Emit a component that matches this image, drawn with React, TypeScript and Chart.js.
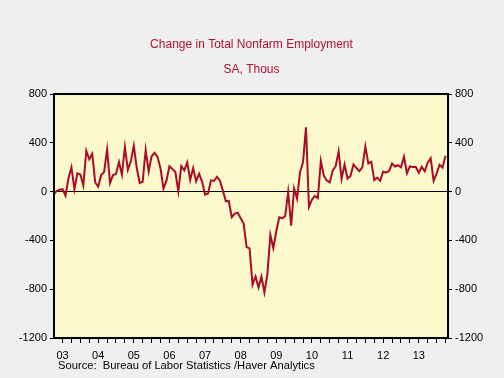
import React, { useEffect, useRef } from "react";
import { Chart, registerables } from "chart.js";

Chart.register(...registerables);

// Monthly change in total nonfarm payrolls, SA, thousands: Apr 2003 .. Apr 2014
const START_YEAR = 2003;
const START_MONTH = 4;
const change2003 = [-25, 5, 15, 20, -35, 110, 200, 20, 150];
const change2004 = [140, 50, 335, 265, 310, 75, 40, 135, 160, 345, 70, 135];
const change2005 = [145, 242, 140, 365, 178, 248, 375, 193, 70, 82, 342, 165];
const change2006 = [290, 318, 285, 190, 25, 90, 208, 186, 160, 3, 210, 175];
const change2007 = [240, 95, 193, 85, 146, 82, -25, -15, 92, 87, 120, 92];
const change2008 = [8, -78, -77, -210, -180, -173, -218, -262, -455, -465, -763, -696];
const change2009 = [-785, -697, -826, -678, -355, -463, -325, -211, -219, -200, -3, -280];
const change2010 = [25, -58, 160, 240, 527, -125, -66, -35, -53, 251, 130, 90];
const change2011 = [75, 172, 208, 328, 105, 221, 107, 128, 223, 193, 167, 200];
const change2012 = [370, 231, 244, 95, 115, 88, 165, 155, 170, 230, 206, 216];
const change2013 = [198, 286, 150, 206, 201, 202, 155, 203, 166, 237, 273, 88];
const change2014 = [147, 220, 197, 294];

const payrollChange = [
  ...change2003, ...change2004, ...change2005, ...change2006, ...change2007, ...change2008,
  ...change2009, ...change2010, ...change2011, ...change2012, ...change2013, ...change2014,
];

const yearLabels = ["03", "04", "05", "06", "07", "08", "09", "10", "11", "12", "13"];
const yTickValues = [-1200, -800, -400, 0, 400, 800];

const TITLE = "Change in Total Nonfarm Employment";
const SUBTITLE = "SA, Thous";
const SOURCE = "Source:  Bureau of Labor Statistics /Haver Analytics";

const FONT = "'Liberation Sans', Arial, Helvetica, sans-serif";
const LINE_COLOR = "#A80D2A";
const TITLE_COLOR = "#B0122F";

export default function App() {
  const ref = useRef<HTMLCanvasElement | null>(null);

  useEffect(() => {
    if (!ref.current) return;
    const points = payrollChange.map((v, i) => ({
      x: START_YEAR + (START_MONTH - 1 + i) / 12,
      y: v,
    }));
    const xMin = 2003.26;
    const xMax = 2014.32;

    const decor = {
      id: "decor",
      beforeDraw(chart: any) {
        const { ctx, chartArea } = chart;
        const { left, top, right, bottom } = chartArea;
        ctx.save();
        ctx.fillStyle = "#EFEFEF";
        ctx.fillRect(0, 0, chart.width, chart.height);
        ctx.fillStyle = "#FBF8CB";
        ctx.fillRect(left, top, right - left, bottom - top);
        ctx.restore();
      },
      afterDraw(chart: any) {
        const { ctx, chartArea } = chart;
        const { left, top, right, bottom } = chartArea;
        ctx.save();
        ctx.strokeStyle = "#000";
        ctx.lineWidth = 2;
        ctx.strokeRect(left, top, right - left, bottom - top);
        ctx.fillStyle = TITLE_COLOR;
        ctx.textAlign = "center";
        ctx.textBaseline = "middle";
        ctx.font = `12px ${FONT}`;
        ctx.fillText(TITLE, 251.5, 45);
        ctx.fillText(SUBTITLE, 251.5, 70);
        ctx.fillStyle = "#000";
        ctx.textAlign = "left";
        ctx.font = `11.2px ${FONT}`;
        ctx.fillText(SOURCE, 58, 366);
        ctx.restore();
      },
    };

    const tickFont = { family: FONT, size: 11 };
    const plainLabel = (value: any) => String(value);

    const chart = new Chart(ref.current, {
      type: "line",
      data: {
        datasets: [
          {
            data: points,
            borderColor: LINE_COLOR,
            borderWidth: 2,
            pointRadius: 0,
            tension: 0,
            fill: false,
          },
        ],
      },
      options: {
        animation: false,
        responsive: false,
        events: [],
        layout: { padding: { top: 94, left: 0, right: 0, bottom: 0 } },
        plugins: { legend: { display: false }, tooltip: { enabled: false }, title: { display: false } },
        scales: {
          x: {
            type: "linear",
            min: xMin,
            max: xMax,
            border: { display: false },
            grid: { drawOnChartArea: false, drawTicks: true, tickLength: 5, tickColor: "#000", lineWidth: 1 },
            afterBuildTicks(scale: any) {
              const ticks = [];
              for (let q = 2003.5; q <= 2014.25 + 1e-6; q += 0.25) ticks.push({ value: q });
              scale.ticks = ticks;
            },
            afterFit(scale: any) {
              scale.height = 40;
            },
            ticks: {
              autoSkip: false,
              maxRotation: 0,
              padding: 6,
              color: "#000",
              font: tickFont,
              callback(value: any) {
                const v = Number(value);
                const frac = v - Math.floor(v);
                if (Math.abs(frac - 0.5) < 1e-6) {
                  const idx = Math.floor(v) - START_YEAR;
                  return yearLabels[idx] ?? "";
                }
                return "";
              },
            },
          },
          y: {
            position: "left",
            min: -1200,
            max: 800,
            border: { display: false },
            afterBuildTicks(scale: any) {
              scale.ticks = yTickValues.map((v) => ({ value: v }));
            },
            afterFit(scale: any) {
              scale.width = 54;
            },
            grid: {
              drawOnChartArea: true,
              drawTicks: true,
              tickLength: 4,
              tickColor: "#000",
              lineWidth: 1,
              color: (c: any) => (c.tick && c.tick.value === 0 ? "#000" : "rgba(0,0,0,0)"),
            },
            ticks: { padding: 3, color: "#000", font: tickFont, callback: plainLabel },
          },
          y2: {
            position: "right",
            min: -1200,
            max: 800,
            border: { display: false },
            afterBuildTicks(scale: any) {
              scale.ticks = yTickValues.map((v) => ({ value: v }));
            },
            afterFit(scale: any) {
              scale.width = 56;
            },
            grid: { drawOnChartArea: false, drawTicks: true, tickLength: 4, tickColor: "#000", lineWidth: 1 },
            ticks: { padding: 3, color: "#000", font: tickFont, callback: plainLabel },
          },
        },
      } as any,
      plugins: [decor],
    });
    return () => chart.destroy();
  }, []);

  return (
    <div style={{ position: "fixed", left: 0, top: 0, width: 504, height: 378 }}>
      <canvas ref={ref} width={504} height={378} style={{ display: "block", width: 504, height: 378 }} />
    </div>
  );
}
